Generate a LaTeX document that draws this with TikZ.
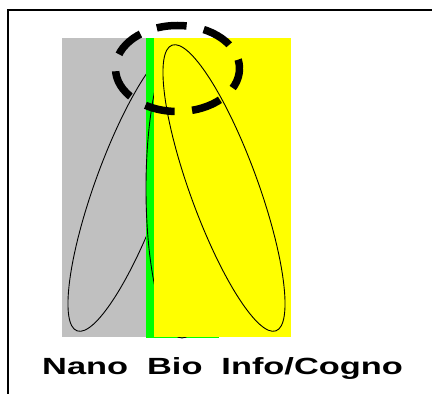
\documentclass[tikz,border=0pt]{standalone}
\usepackage{fontspec}
\setmainfont{Liberation Sans}
\definecolor{silvergray}{RGB}{192,192,192}
\definecolor{brightgreen}{RGB}{0,255,0}
\definecolor{brightyellow}{RGB}{255,255,0}
\tikzset{
  zone/.style={draw=none},
  thinoval/.style={draw=black, line width=0.9pt},
  bigdash/.style={draw=black, line width=7.5pt, dash pattern=on 30pt off 17.5pt, dash phase=21pt},
  frameline/.style={draw=black, line width=2pt},
  label/.style={inner sep=0pt, anchor=base west, font=\bfseries\fontsize{23.4}{26}\selectfont}
}
\begin{document}
\begin{tikzpicture}[x=1pt,y=1pt]
\useasboundingbox (0,0) rectangle (432,394);
\fill[white] (0,0) rectangle (432,394);
% gray zone and its oval
\fill[silvergray, zone] (62,57) rectangle (146,356);
\draw[thinoval, rotate around={-20:(129,206)}] (129,206) ellipse [x radius=34, y radius=152];
% green zone and its oval
\fill[brightgreen, zone] (146,56) rectangle (219,356);
\draw[thinoval] (182,205.5) ellipse [x radius=36, y radius=149.5];
% yellow zone and its oval
\fill[brightyellow, zone] (154,57) rectangle (291,356);
\draw[thinoval, rotate around={20:(224,206)}] (224,206) ellipse [x radius=34, y radius=152];
% dashed ellipse
\draw[bigdash] (177.5,325.5) ellipse [x radius=62, y radius=43];
% caption
\node[label] (cap) at (42,19.7) {\scalebox{1.47}[1]{Nano\hspace{0.55em}Bio\hspace{0.55em}Info/Cogno}};
% frame
\draw[frameline] (8,-10) -- (8,384) -- (440,384);
\end{tikzpicture}
\end{document}
